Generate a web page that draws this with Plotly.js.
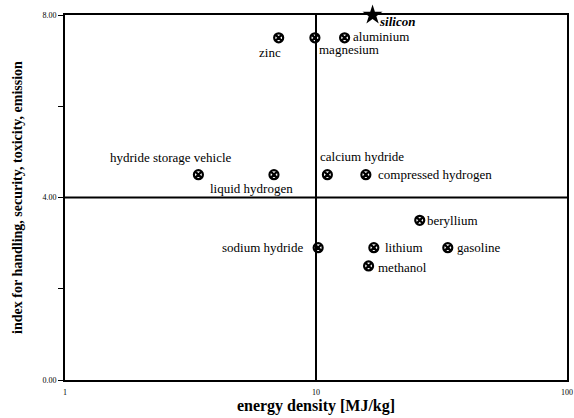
<!DOCTYPE html>
<html><head><meta charset="utf-8">
<script src="https://cdn.plot.ly/plotly-3.0.1.min.js"></script>
<style>html,body{margin:0;padding:0;background:#fff}#chart{width:574px;height:418px}</style>
</head><body><div id="chart"></div>
<script>
// data
const names = ["zinc","magnesium","aluminium","hydride storage vehicle","liquid hydrogen","calcium hydride","compressed hydrogen","beryllium","sodium hydride","lithium","gasoline","methanol"];
const energy = [7.1, 9.9, 13.0, 3.4, 6.8, 11.1, 15.8, 25.9, 10.2, 17.0, 33.5, 16.2];
const index = [7.5, 7.5, 7.5, 4.5, 4.5, 4.5, 4.5, 3.5, 2.9, 2.9, 2.9, 2.5];
const starName = ["silicon"];
const starEnergy = [16.8];
const starIndex = [8.0];
const refEnergy = 10;
const refIndex = 4;
const xTicks = [1, 10, 100];
const yTicks = [0, 2, 4, 6, 8];
const yTickText = ["0.00", "", "4.00", "", "8.00"];

// label placement (anchor, xshift, yshift) per point
const labelPlace = [
  ["center", -9, -15], ["left", 2, -12], ["left", 6, 1], ["center", -27, 17],
  ["center", -22, -14], ["center", 35, 18], ["left", 10, 0], ["left", 5, 0],
  ["right", -13, 0], ["left", 9, 0], ["left", 7, 0], ["left", 7, -2]
];

const serif = "Liberation Serif";
const lineStyle = {color: "#000", width: 2};

const traces = [
  {x: [refEnergy, refEnergy], y: [yTicks[0], yTicks[yTicks.length-1]], mode: "lines", line: lineStyle, hoverinfo: "skip", showlegend: false},
  {x: [xTicks[0], xTicks[xTicks.length-1]], y: [refIndex, refIndex], mode: "lines", line: lineStyle, hoverinfo: "skip", showlegend: false},
  {x: energy, y: index, text: names, mode: "markers", type: "scatter", showlegend: false,
   marker: {symbol: "circle-x-open", size: 9, color: "#000", line: {color: "#000", width: 2.2}}},
  {x: starEnergy, y: starIndex, text: starName, mode: "markers", type: "scatter", showlegend: false, cliponaxis: false,
   marker: {symbol: "star", size: 15, color: "#000"}}
];

const annotations = names.map((n, i) => ({
  x: Math.log10(energy[i]), y: index[i], text: n, showarrow: false,
  xanchor: labelPlace[i][0], yanchor: "middle", xshift: labelPlace[i][1], yshift: labelPlace[i][2],
  font: {family: serif, size: 13, color: "#000"}
}));
annotations.push({
  x: Math.log10(starEnergy[0]), y: starIndex[0], text: "<b><i>" + starName[0] + "</i></b>", showarrow: false,
  xanchor: "left", yanchor: "middle", xshift: 4, yshift: -6,
  font: {family: serif, size: 13, color: "#000"}
});

const layout = {
  width: 574, height: 418,
  margin: {l: 65, r: 7, t: 15, b: 38},
  paper_bgcolor: "#fff", plot_bgcolor: "#fff",
  font: {family: serif, color: "#000"},
  xaxis: {
    type: "log", range: [0, 2], tickvals: xTicks, ticktext: xTicks.map(String),
    showgrid: false, zeroline: false, showline: true, mirror: true, linecolor: "#000", linewidth: 2,
    ticks: "", tickfont: {family: serif, size: 8}, ticklabelstandoff: 3, ticklabeloverflow: "allow",
    title: {text: "<b>energy density [MJ/kg]</b>", font: {family: serif, size: 16}, standoff: 4}
  },
  yaxis: {
    range: [0, 8], tickvals: yTicks, ticktext: yTickText,
    showgrid: false, zeroline: false, showline: true, mirror: true, linecolor: "#000", linewidth: 2,
    ticks: "outside", ticklen: 5, tickwidth: 1, tickcolor: "#000", tickfont: {family: serif, size: 8},
    title: {text: "<b>index for handling, security, toxicity, emission</b>", font: {family: serif, size: 14}, standoff: 17}
  },
  annotations: annotations
};

Plotly.newPlot("chart", traces, layout, {displayModeBar: false, staticPlot: true});
</script>
</body></html>
